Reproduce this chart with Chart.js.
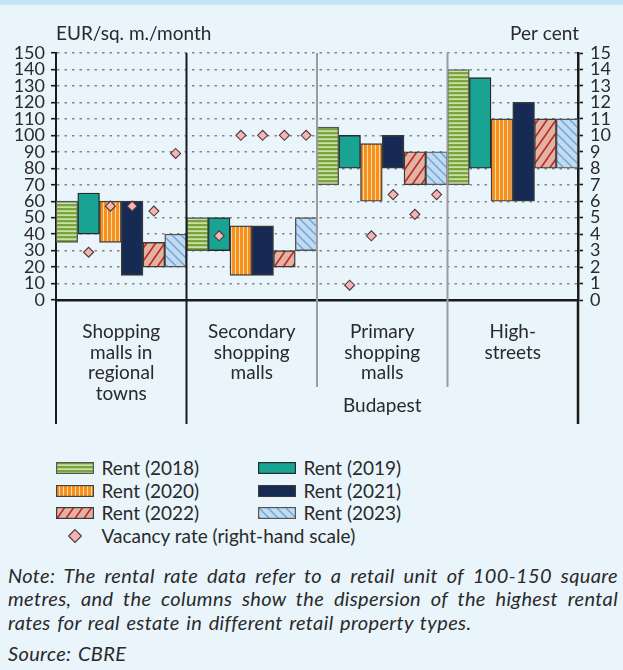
<!DOCTYPE html>
<html>
<head>
<meta charset="utf-8">
<script src="https://cdn.jsdelivr.net/npm/chart.js@4/dist/chart.umd.min.js"></script>
<style>
html,body{margin:0;padding:0;background:#e9f4fb;}
body{width:623px;height:670px;position:relative;overflow:hidden;font-family:Lato,"Open Sans",sans-serif;color:#2a2a2a;}
#band{position:absolute;left:0;top:0;width:623px;height:5px;background:#c3e5f5;}
#wrap{position:absolute;left:0;top:0;width:623px;height:440px;}
.lg{position:absolute;font-size:19px;line-height:22px;white-space:nowrap;}
.sw{position:absolute;}
.note{position:absolute;left:8px;width:610px;font-size:20px;line-height:24px;font-style:italic;text-align:justify;letter-spacing:0.35px;word-spacing:1.5px;}
.just{text-align-last:justify;}
</style>
</head>
<body>
<div id="band"></div>
<div id="wrap"><canvas id="c" width="623" height="440"></canvas></div>
<div id="legend"></div>
<div class="note just" style="top:563px">Note: The rental rate data refer to a retail unit of 100-150 square</div>
<div class="note just" style="top:586px">metres, and the columns show the dispersion of the highest rental</div>
<div class="note" style="top:609.5px">rates for real estate in different retail property types.</div>
<div class="note" style="top:641px">Source: CBRE</div>
<script>
// ---------------- data ----------------
const categories = [
  ["Shopping", "malls in", "regional", "towns"],
  ["Secondary", "shopping", "malls"],
  ["Primary", "shopping", "malls"],
  ["High-", "streets"]
];
const groupNote = "Budapest";
const budapestFrom = 1, budapestTo = 3;
const years = ["2018", "2019", "2020", "2021", "2022", "2023"];
// floating bars [low, high], EUR/sq. m./month, per category
const rent2018 = [[35, 60], [30, 50], [70, 105], [70, 140]];
const rent2019 = [[40, 65], [30, 50], [80, 100], [80, 135]];
const rent2020 = [[35, 60], [15, 45], [60, 95], [60, 110]];
const rent2021 = [[15, 60], [15, 45], [80, 100], [60, 120]];
const rent2022 = [[20, 35], [20, 30], [70, 90], [80, 110]];
const rent2023 = [[20, 40], [30, 50], [70, 90], [80, 110]];
// vacancy rate, per cent, per category per year (2018..2023)
const vacancyShoppingRegional = [null, 2.9, 5.7, 5.7, 5.4, 8.9];
const vacancySecondary        = [null, 3.9, 10, 10, 10, 10];
const vacancyPrimary          = [null, 0.9, 3.9, 6.4, 5.2, 6.4];
const vacancyHighStreets      = [null, null, null, null, null, null];
const leftAxis = {min: 0, max: 150, step: 10, title: "EUR/sq. m./month"};
const rightAxis = {min: 0, max: 15, step: 1, title: "Per cent"};
const vacancyLabel = "Vacancy rate (right-hand scale)";

// ---------------- patterns ----------------
function tile(w, h, draw) {
  const c = document.createElement('canvas'); c.width = w; c.height = h;
  draw(c.getContext('2d'), w, h); return c;
}
const tiles = {
  green: tile(4, 4, (g) => { g.fillStyle = '#79a63c'; g.fillRect(0, 0, 4, 4); g.fillStyle = '#cbe0a8'; g.fillRect(0, 2.3, 4, 1.7); }),
  teal: null,
  orange: tile(4, 4, (g) => { g.fillStyle = '#f7911e'; g.fillRect(0, 0, 4, 4); g.fillStyle = '#fdd7a6'; g.fillRect(3, 0, 1, 4); }),
  navy: null,
  salmon: tile(9, 13, (g, w, h) => { g.fillStyle = '#e2b3a1'; g.fillRect(0, 0, w, h); g.strokeStyle = '#c1272d'; g.lineWidth = 1.6;
    g.beginPath(); g.moveTo(-w, 2*h); g.lineTo(2*w, -h); g.moveTo(-2*w, 2*h); g.lineTo(w, -h); g.moveTo(0, 2*h); g.lineTo(3*w, -h); g.stroke(); }),
  blue: tile(9, 9, (g, w, h) => { g.fillStyle = '#c4daf0'; g.fillRect(0, 0, w, h); g.strokeStyle = '#6aa8de'; g.lineWidth = 1.5;
    g.beginPath(); g.moveTo(-w, -h); g.lineTo(2*w, 2*h); g.moveTo(-2*w, -h); g.lineTo(w, 2*h); g.moveTo(0, -h); g.lineTo(3*w, 2*h); g.stroke(); })
};
function fillOf(ctx, key, solid) {
  return tiles[key] ? ctx.createPattern(tiles[key], 'repeat') : solid;
}
const ctx = document.getElementById('c').getContext('2d');
const styles = [
  {key: 'green', solid: '#79a63c', border: '#555555'},
  {key: 'teal', solid: '#19a393', border: '#2a2a2a'},
  {key: 'orange', solid: '#f7911e', border: '#444444'},
  {key: 'navy', solid: '#172a53', border: '#3a3a3a'},
  {key: 'salmon', solid: '#e2b3a1', border: '#3a3a3a'},
  {key: 'blue', solid: '#c4daf0', border: '#555555'}
];
const rents = [rent2018, rent2019, rent2020, rent2021, rent2022, rent2023];
// one slot per (category, year) on a hidden sub-axis
const subLabels = categories.flatMap((c, ci) => years.map(y => ci + '-' + y));
const barSets = rents.map((d, i) => ({
  type: 'bar',
  label: 'Rent (' + years[i] + ')',
  data: categories.flatMap((c, ci) => years.map((y, yi) => (yi === i ? d[ci] : null))),
  backgroundColor: fillOf(ctx, styles[i].key, styles[i].solid),
  borderColor: styles[i].border,
  borderWidth: 1.4,
  borderSkipped: false,
  grouped: false,
  barPercentage: 1,
  categoryPercentage: 1,
  xAxisID: 'x2', yAxisID: 'y', order: 2
}));
const vacancyAll = [vacancyShoppingRegional, vacancySecondary, vacancyPrimary, vacancyHighStreets];
const vacancyFlat = vacancyAll.flat();

const FONT = 'Lato, "Open Sans", sans-serif';
const TXT = '#2a2a2a';

const decor = {
  id: 'decor',
  afterDraw(chart) {
    const {ctx: g, chartArea: a, scales: {x}} = chart;
    const longBottom = 424, shortBottom = 387;
    g.save();
    g.strokeStyle = '#1a1a1a';
    g.lineWidth = 2; g.beginPath(); g.moveTo(a.left, a.bottom); g.lineTo(a.left, longBottom); g.stroke();
    g.lineWidth = 2.5; g.beginPath(); g.moveTo(a.right, a.bottom); g.lineTo(a.right, longBottom); g.stroke();
    for (let i = 1; i < categories.length; i++) {
      const px = x.getPixelForValue(i - 0.5);
      const inner = i > budapestFrom && i <= budapestTo;
      g.strokeStyle = inner ? '#9c9c9c' : '#1a1a1a';
      g.lineWidth = 2;
      g.beginPath(); g.moveTo(px, a.top); g.lineTo(px, inner ? shortBottom : longBottom); g.stroke();
    }
    g.fillStyle = TXT;
    g.font = '19px ' + FONT;
    g.textBaseline = 'middle';
    g.textAlign = 'center';
    const bx = (x.getPixelForValue(budapestFrom - 0.5) + x.getPixelForValue(budapestTo + 0.5)) / 2;
    g.fillText(groupNote, bx, 406);
    g.textAlign = 'left';
    g.fillText(leftAxis.title, a.left, 34);
    g.textAlign = 'right';
    g.fillText(rightAxis.title, a.right + 1, 34);
    g.restore();
  }
};

new Chart(ctx, {
  data: {
    labels: categories,
    datasets: [
      ...barSets,
      {
        type: 'line', label: vacancyLabel, data: vacancyFlat,
        xAxisID: 'x2', yAxisID: 'y1', showLine: false,
        pointStyle: 'rectRot', pointRadius: 5, pointHoverRadius: 5,
        pointBackgroundColor: '#f6b4b4', pointBorderColor: '#4a3a3a', pointBorderWidth: 1.1,
        order: 0
      }
    ]
  },
  options: {
    responsive: false,
    animation: false,
    devicePixelRatio: 1,
    layout: {padding: {top: 53, left: 0, right: 0, bottom: 0}},
    plugins: {legend: {display: false}, tooltip: {enabled: false}},
    scales: {
      x: {
        type: 'category', offset: true,
        grid: {display: false, drawTicks: false},
        border: {display: true, color: '#1a1a1a', width: 2.5},
        ticks: {font: {family: FONT, size: 19, lineHeight: 1.08}, color: TXT, padding: 22, maxRotation: 0, autoSkip: false},
        afterFit(s) { s.height = 140; }
      },
      x2: {type: 'category', labels: subLabels, offset: true, display: false},
      y: {
        position: 'left', min: leftAxis.min, max: leftAxis.max,
        ticks: {stepSize: leftAxis.step, autoSkip: false, font: {family: FONT, size: 18, lineHeight: 1}, color: TXT, padding: 6},
        grid: {color: '#858585', lineWidth: 1.4, tickColor: '#1a1a1a', tickLength: 5, tickWidth: 1.6},
        border: {color: '#1a1a1a', width: 2, dash: [2.5, 5]},
        afterFit(s) { s.width = 56; }
      },
      y1: {
        position: 'right', min: rightAxis.min, max: rightAxis.max,
        ticks: {stepSize: rightAxis.step, autoSkip: false, font: {family: FONT, size: 18, lineHeight: 1}, color: TXT, padding: 7},
        grid: {drawOnChartArea: false, tickColor: '#1a1a1a', tickLength: 5, tickWidth: 1.6},
        border: {color: '#1a1a1a', width: 2.5},
        afterFit(s) { s.width = 45; }
      }
    }
  },
  plugins: [decor]
});

// ---------------- HTML legend ----------------
const legend = document.getElementById('legend');
const legendCols = [55.5, 257.5];
const legendRows = [468, 490.5, 513, 535.5];
function addText(txt, left, cy) {
  const d = document.createElement('div'); d.className = 'lg'; d.textContent = txt;
  d.style.left = left + 'px'; d.style.top = (cy - 11) + 'px'; legend.appendChild(d);
}
barSets.forEach((ds, i) => {
  const col = i % 2, row = Math.floor(i / 2);
  const c = document.createElement('canvas'); c.width = 38; c.height = 12; c.className = 'sw';
  c.style.left = legendCols[col] + 'px'; c.style.top = (legendRows[row] - 6) + 'px';
  const g = c.getContext('2d');
  g.fillStyle = fillOf(g, styles[i].key, styles[i].solid); g.fillRect(1, 1, 36, 10);
  g.strokeStyle = styles[i].border; g.lineWidth = 1.2; g.strokeRect(0.6, 0.6, 36.8, 10.8);
  legend.appendChild(c);
  addText(ds.label, legendCols[col] + 46, legendRows[row]);
});
(function () {
  const c = document.createElement('canvas'); c.width = 16; c.height = 16; c.className = 'sw';
  c.style.left = (74.7 - 8) + 'px'; c.style.top = (legendRows[3] - 8) + 'px';
  const g = c.getContext('2d');
  g.beginPath(); g.moveTo(8, 1.6); g.lineTo(14.4, 8); g.lineTo(8, 14.4); g.lineTo(1.6, 8); g.closePath();
  g.fillStyle = '#f6b4b4'; g.fill(); g.strokeStyle = '#4a3a3a'; g.lineWidth = 1.1; g.stroke();
  legend.appendChild(c);
  addText(vacancyLabel, legendCols[0] + 46, legendRows[3]);
})();
</script>
</body>
</html>
